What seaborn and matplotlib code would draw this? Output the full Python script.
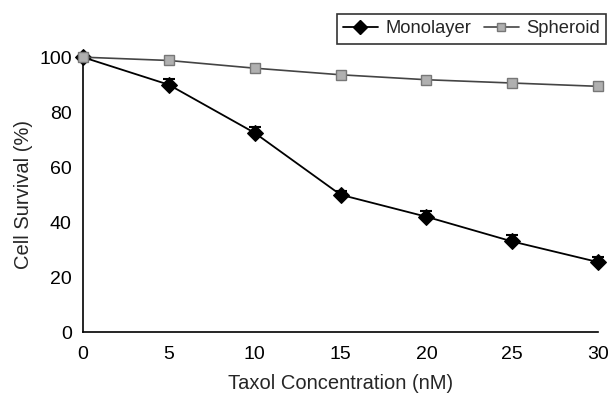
import matplotlib
matplotlib.use("Agg")
import matplotlib.pyplot as plt
import seaborn as sns
import pandas as pd
import numpy as np
from matplotlib.lines import Line2D

concentration = [0, 5, 10, 15, 20, 25, 30]
monolayer = [100, 90, 72.5, 50, 42, 33, 25.5]
monolayer_err = [0, 2, 2, 1.5, 2, 2.5, 2]
spheroid = [100, 98.8, 96, 93.6, 91.8, 90.6, 89.4]
x_ticks = [0, 5, 10, 15, 20, 25, 30]
y_ticks = [0, 20, 40, 60, 80, 100]

sns.set_style("white")
plt.rcParams['font.family'] = ['Liberation Sans', 'DejaVu Sans']

df = pd.DataFrame({
    "conc": concentration * 2,
    "survival": monolayer + spheroid,
    "type": ["Monolayer"] * len(concentration) + ["Spheroid"] * len(concentration),
})

fig = plt.figure(figsize=(6.13, 3.97), dpi=100)
ax = fig.add_axes([0.135, 0.163, 0.841, 0.693])

ax.errorbar(concentration, monolayer, yerr=[np.zeros(len(monolayer_err)), monolayer_err],
            fmt='none', ecolor='black', elinewidth=1.2, capsize=4, capthick=1.5,
            clip_on=False, zorder=3)

sns.lineplot(data=df, x="conc", y="survival", hue="type", style="type",
             markers={"Monolayer": "D", "Spheroid": "s"}, dashes=False,
             palette={"Monolayer": "black", "Spheroid": "#444444"},
             ax=ax, legend=False, clip_on=False, zorder=4, linewidth=1.3)

mono_line, sph_line = ax.lines[-2], ax.lines[-1]
mono_line.set_markersize(8)
mono_line.set_markerfacecolor('black')
mono_line.set_markeredgecolor('black')
sph_line.set_markersize(7)
sph_line.set_markerfacecolor('#b0b0b0')
sph_line.set_markeredgecolor('#777777')
sph_line.set_markeredgewidth(1)
sph_line.set_linewidth(1.2)

ax.set_xlim(0, 30)
ax.set_ylim(0, 100)
ax.set_xticks(x_ticks)
ax.set_yticks(y_ticks)
ax.set_xticklabels([str(v) for v in x_ticks])
ax.set_yticklabels([str(v) for v in y_ticks])
ax.tick_params(axis='both', direction='in', length=5, width=1, labelsize=14, colors='black')
ax.tick_params(axis='x', pad=10)
ax.tick_params(axis='y', pad=8)
sns.despine(ax=ax)
for s in ['left', 'bottom']:
    ax.spines[s].set_color('black')
    ax.spines[s].set_linewidth(1.2)

ax.set_xlabel("Taxol Concentration (nM)", fontsize=14.5)
ax.xaxis.set_label_coords(0.5, -0.152)
ax.set_ylabel("Cell Survival (%)", fontsize=14.5)
ax.yaxis.set_label_coords(-0.097, 0.5)

handles = [
    Line2D([], [], color='black', marker='D', markersize=7, linewidth=1.3),
    Line2D([], [], color='#444444', marker='s', markersize=6, markerfacecolor='#b0b0b0',
           markeredgecolor='#777777', linewidth=1.2),
]
leg = fig.legend(handles, ["Monolayer", "Spheroid"], ncol=2, loc='upper right',
                 bbox_to_anchor=(0.989, 0.965), frameon=True, fancybox=False,
                 fontsize=13.2, handlelength=1.9, handletextpad=0.4, columnspacing=0.7,
                 borderpad=0.35, borderaxespad=0)
leg.get_frame().set_edgecolor('black')
leg.get_frame().set_linewidth(1.2)

fig.savefig("out.png", dpi=100)
